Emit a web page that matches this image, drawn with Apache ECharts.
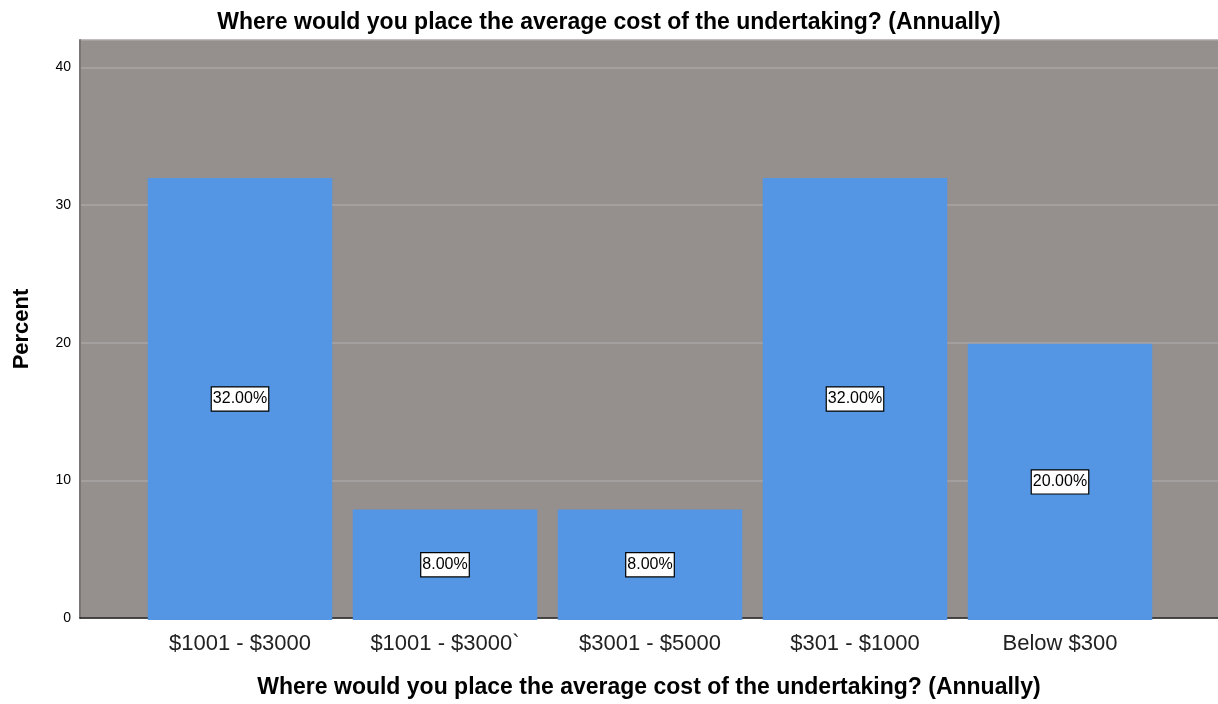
<!DOCTYPE html>
<html><head><meta charset="utf-8">
<script src="https://cdn.jsdelivr.net/npm/echarts@6/dist/echarts.min.js"></script>
<style>html,body{margin:0;padding:0;background:#fff}#c{width:1218px;height:704px}</style>
</head><body><div id="c"></div>
<script>
const categories = ['$1001 - $3000', '$1001 - $3000`', '$3001 - $5000', '$301 - $1000', 'Below $300'];
const percentValues = [32, 8, 8, 32, 20];
const yTicks = [0, 10, 20, 30, 40];
const titleText = 'Where would you place the average cost of the undertaking? (Annually)';

const chart = echarts.init(document.getElementById('c'));
chart.setOption({
  animation: false,
  title: {text: titleText, left: 'center', top: 6, textStyle: {fontFamily: 'Liberation Sans, Arial', fontSize: 23, fontWeight: 'bold', color: '#000'}},
  grid: [
    {left: 80, right: 0, top: 40, bottom: 84, show: true, backgroundColor: '#958f8e', borderWidth: 0},
    {left: 137.5, right: 55.5, top: 40, bottom: 84}
  ],
  xAxis: [
    {gridIndex: 0, type: 'category', data: ['a'], axisLine: {show: true, lineStyle: {color: '#222', width: 1.5}}, axisTick: {show: false}, axisLabel: {show: false},
     name: titleText, nameLocation: 'middle', nameGap: 58, nameTextStyle: {fontFamily: 'Liberation Sans, Arial', fontSize: 23, fontWeight: 'bold', color: '#000'}},
    {gridIndex: 1, type: 'category', data: categories, axisLine: {show: false}, axisTick: {show: false},
     axisLabel: {fontFamily: 'Liberation Sans, Arial', fontSize: 22, color: '#222', margin: 13}}
  ],
  yAxis: [
    {gridIndex: 0, type: 'value', min: 0, max: 42, interval: 10,
     axisLine: {show: true, lineStyle: {color: '#7a7675', width: 2}}, axisTick: {show: false},
     axisLabel: {fontFamily: 'Liberation Sans, Arial', fontSize: 14, color: '#000', margin: 9, formatter: v => yTicks.includes(v) ? String(v) : ''},
     splitLine: {show: true, lineStyle: {color: '#aaa6a5', width: 1.5}},
     name: 'Percent', nameLocation: 'middle', nameGap: 47, nameTextStyle: {fontFamily: 'Liberation Sans, Arial', fontSize: 22, fontWeight: 'bold', color: '#000'}},
    {gridIndex: 1, type: 'value', min: 0, max: 42, interval: 10, show: false, splitLine: {show: false}}
  ],
  series: [{
    type: 'bar', xAxisIndex: 1, yAxisIndex: 1, data: percentValues, barCategoryGap: '10%',
    itemStyle: {color: '#5496e3'},
    label: {show: true, position: 'inside', formatter: p => p.value.toFixed(2) + '%',
      fontFamily: 'Liberation Sans, Arial', fontSize: 16, color: '#000', backgroundColor: '#fff',
      borderColor: '#000', borderWidth: 1.2, padding: [4, 1, 3, 1]}
  }]
});
</script></body></html>
